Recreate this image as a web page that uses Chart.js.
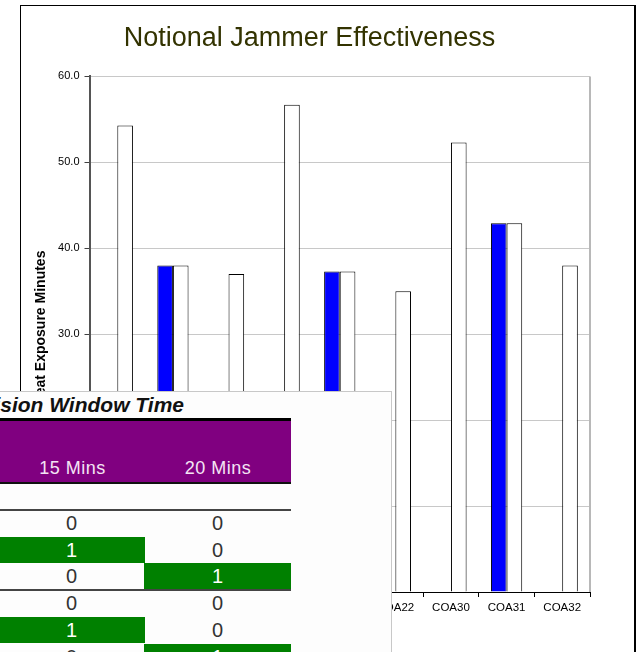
<!DOCTYPE html>
<html>
<head>
<meta charset="utf-8">
<script src="https://cdn.jsdelivr.net/npm/chart.js@4.4.1/dist/chart.umd.min.js"></script>
<style>
  html, body { margin: 0; padding: 0; background: #fff; overflow: hidden; width: 640px; height: 652px; }
  #frame { position: absolute; left: 20px; top: 5px; width: 613px; height: 700px; border: 1px solid #000; border-right-width: 2px; }
  #chart { position: absolute; left: 0; top: 0; }
  #overlay { position: absolute; left: 0; top: 391px; width: 392px; height: 270px; background: #fdfdfd;
             border-top: 1px solid #c8c8c8; border-right: 1px solid #c8c8c8; box-sizing: border-box; overflow: hidden;
             font-family: Arial, "Liberation Sans", sans-serif; }
  #tblTitle { position: absolute; top: 2px; right: 207px; font: italic bold 21px/21px Arial, "Liberation Sans", sans-serif; color: #111; white-space: nowrap; }
  .hdr { position: absolute; left: -2px; top: 26px; width: 293px; height: 66px; background: #800080;
         border-top: 3px solid #000; border-bottom: 2px solid #111; box-sizing: border-box; }
  .hlab { position: absolute; top: 67px; height: 18px; font-size: 18px; line-height: 18px; letter-spacing: 0.5px; color: #f4e4f4; text-align: center; white-space: nowrap; }
  .rule { position: absolute; left: -2px; width: 293px; height: 2px; background: #444; }
  .cell { position: absolute; height: 26.7px; line-height: 26.7px; font-size: 20px; text-align: center; color: #333; }
  .cell.on { background: #008000; color: #fff; }
</style>
</head>
<body>
<div id="frame"><canvas id="chart" width="613" height="646"></canvas></div>
<div id="overlay"></div>
<script>
// ---- chart data ----
const categories = ['COA10', 'COA11', 'COA12', 'COA20', 'COA21', 'COA22', 'COA30', 'COA31', 'COA32'];
const jammerSeries = [null, 38.0, null, null, 37.3, null, null, 42.9, null];
const exposureSeries = [54.3, 38.0, 37.0, 56.7, 37.3, 35.0, 52.3, 42.9, 38.0];
const chartTitle = 'Notional Jammer Effectiveness';
const yAxisTitle = 'Threat Exposure Minutes';

// ---- overlaid table data ----
const tableTitle = 'Decision Window Time';
const windowLabels = ['15 Mins', '20 Mins'];
const window15 = [0, 1, 0, 0, 1, 0];
const window20 = [0, 0, 1, 0, 0, 1];

const plotFrame = {
  id: 'plotFrame',
  beforeDatasetsDraw(chart) {
    const { ctx, chartArea: a } = chart;
    ctx.save();
    ctx.strokeStyle = '#b8b8b8';
    ctx.lineWidth = 2;
    ctx.beginPath();
    ctx.moveTo(a.right, a.top);
    ctx.lineTo(a.right, a.bottom);
    ctx.stroke();
    ctx.restore();
  }
};

new Chart(document.getElementById('chart'), {
  type: 'bar',
  data: {
    labels: categories,
    datasets: [
      { label: 'Jammer', data: jammerSeries, backgroundColor: '#0000ff', borderColor: '#000', borderWidth: 1 },
      { label: 'Exposure', data: exposureSeries, backgroundColor: '#ffffff', borderColor: '#000', borderWidth: 1 }
    ]
  },
  plugins: [plotFrame],
  options: {
    responsive: false,
    animation: false,
    categoryPercentage: 0.562,
    barPercentage: 1.0,
    layout: { padding: { left: 8, right: 44, top: 0, bottom: 20 } },
    plugins: {
      legend: { display: false },
      tooltip: { enabled: false },
      title: {
        display: true, text: chartTitle, color: '#333300',
        font: { family: 'Arial, "Liberation Sans", sans-serif', size: 27, weight: 'normal' },
        padding: { top: 16, bottom: 22 }
      }
    },
    scales: {
      x: {
        afterFit: s => { s.height = 40; },
        grid: { display: true, drawOnChartArea: false, drawTicks: true, tickLength: 5, color: '#000', offset: true },
        border: { color: '#000', width: 1 },
        ticks: { color: '#000', font: { family: 'Arial, "Liberation Sans", sans-serif', size: 11.5 }, padding: 4, maxRotation: 0, autoSkip: false }
      },
      y: {
        min: 0, max: 60,
        afterFit: s => { s.width = 60.5; },
        grid: { color: '#c8c8c8', tickColor: '#404040', tickLength: 5 },
        border: { color: '#555', width: 2 },
        ticks: { stepSize: 10, color: '#000', padding: 5,
                 font: { family: 'Arial, "Liberation Sans", sans-serif', size: 11 },
                 callback: v => Number(v).toFixed(1) },
        title: { display: true, text: yAxisTitle, color: '#000',
                 font: { family: 'Arial, "Liberation Sans", sans-serif', size: 14, weight: 'bold' },
                 padding: { top: 4, bottom: 0 } }
      }
    }
  }
});

// ---- build overlaid table ----
const ov = document.getElementById('overlay');
function add(cls, style, text) {
  const d = document.createElement('div');
  d.className = cls;
  Object.assign(d.style, style);
  if (text !== undefined) d.textContent = text;
  ov.appendChild(d);
  return d;
}
const t = add('', {}, tableTitle); t.id = 'tblTitle';
add('hdr', {});
const colLeft = [-2, 144];
const colWidth = [147, 147];
windowLabels.forEach((lab, c) => add('hlab', { left: (c === 0 ? 0 : 145) + 'px', width: (c === 0 ? 145 : 146) + 'px' }, lab));
add('rule', { top: '117px' });
const cols = [window15, window20];
cols.forEach((col, c) => {
  col.forEach((v, r) => {
    add('cell' + (v === 1 ? ' on' : ''), {
      left: colLeft[c] + 'px', width: colWidth[c] + 'px', top: (118 + r * 26.7) + 'px'
    }, String(v));
  });
});
add('rule', { top: '197px' });
</script>
</body>
</html>
